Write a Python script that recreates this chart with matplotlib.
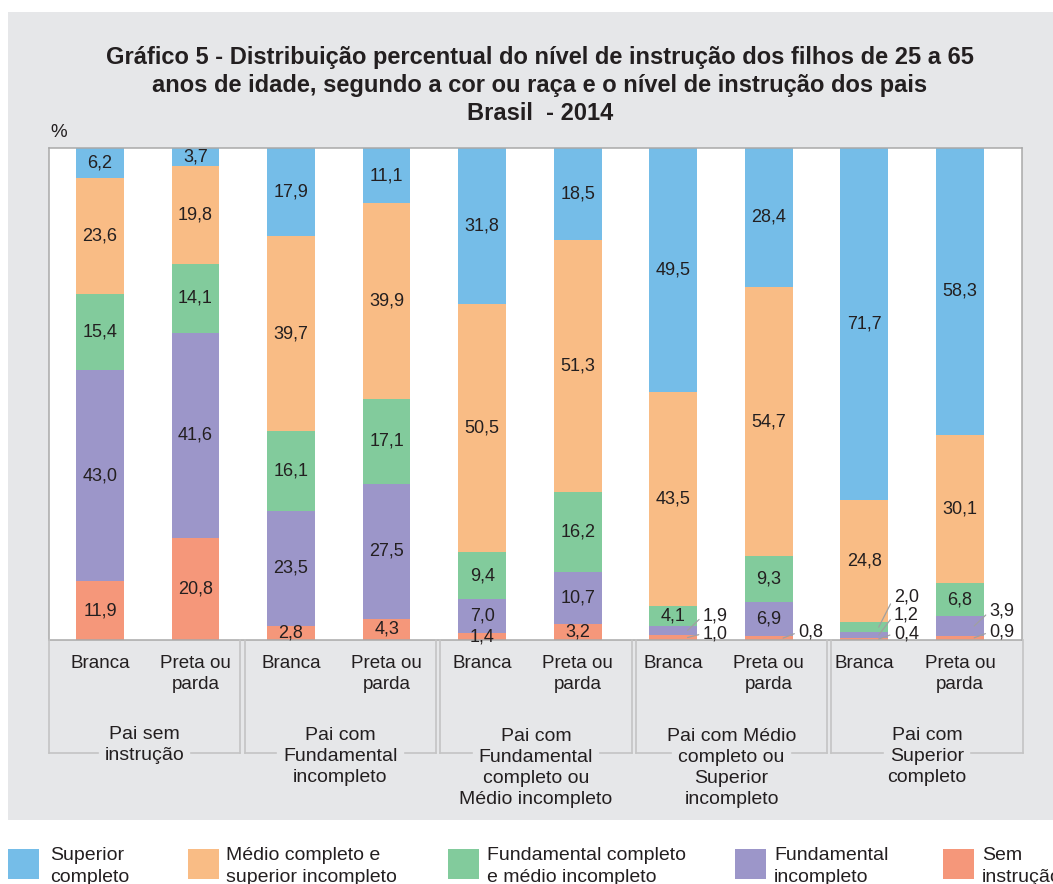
import matplotlib
matplotlib.use("Agg")
import matplotlib.pyplot as plt
from matplotlib.font_manager import FontProperties
from matplotlib.lines import Line2D
from matplotlib.patches import Rectangle

# ---------------------------------------------------------------- data
race = ["Branca", "Preta ou\nparda"]
father = [
    "Pai sem\ninstrução",
    "Pai com\nFundamental\nincompleto",
    "Pai com\nFundamental\ncompleto ou\nMédio incompleto",
    "Pai com Médio\ncompleto ou\nSuperior\nincompleto",
    "Pai com\nSuperior\ncompleto",
]
series_names = [
    "Sem\ninstrução",
    "Fundamental\nincompleto",
    "Fundamental completo\ne médio incompleto",
    "Médio completo e\nsuperior incompleto",
    "Superior\ncompleto",
]
sem_instrucao = [11.9, 20.8, 2.8, 4.3, 1.4, 3.2, 1.0, 0.8, 0.4, 0.9]
fund_incompleto = [43.0, 41.6, 23.5, 27.5, 7.0, 10.7, 1.9, 6.9, 1.2, 3.9]
fund_completo = [15.4, 14.1, 16.1, 17.1, 9.4, 16.2, 4.1, 9.3, 2.0, 6.8]
medio_completo = [23.6, 19.8, 39.7, 39.9, 50.5, 51.3, 43.5, 54.7, 24.8, 30.1]
superior_completo = [6.2, 3.7, 17.9, 11.1, 31.8, 18.5, 49.5, 28.4, 71.7, 58.3]

series = [sem_instrucao, fund_incompleto, fund_completo, medio_completo, superior_completo]
colors = ["#F5977A", "#9C96C9", "#82CB9C", "#F9BC85", "#75BDE8"]

# thin segments labelled beside the bar: (bar, series) -> label height (%)
side_labels = {
    (6, 0): 1.3, (6, 1): 4.9,
    (7, 0): 1.6,
    (8, 0): 1.3, (8, 1): 5.1, (8, 2): 8.7,
    (9, 0): 1.6, (9, 1): 5.8,
}

# ---------------------------------------------------------------- style
W, H, DPI = 1053, 884, 100
BG = "#E6E7E9"
TXT = "#231F20"
BOX = "#C4C4C4"
plt.rcParams["font.family"] = ["Liberation Sans", "DejaVu Sans"]


def fx(px):
    return px / W


def fy(py):
    return 1 - py / H


def fmt(v):
    return f"{v:.1f}".replace(".", ",")


fig = plt.figure(figsize=(W / DPI, H / DPI), dpi=DPI)
fig.patch.set_facecolor("white")
fig.add_artist(Rectangle((fx(8), fy(820)), 1 - fx(8), fy(12) - fy(820),
                         transform=fig.transFigure, facecolor=BG,
                         edgecolor="none", zorder=-10))

ax = fig.add_axes([fx(49.3), fy(640), fx(1022) - fx(49.3), fy(148) - fy(640)])
ax.set_facecolor("white")
for s in ax.spines.values():
    s.set_color("#A9A9A9")
    s.set_linewidth(1.1)

bar_labels = race * len(father)
x = list(range(len(bar_labels)))
bottoms = [0.0] * len(x)
for k, (vals, col) in enumerate(zip(series, colors)):
    ax.bar(x, vals, width=0.5, bottom=bottoms, color=col, zorder=2)
    for i, (v, b) in enumerate(zip(vals, bottoms)):
        if (i, k) in side_labels:
            ax.annotate(fmt(v), xy=(i + 0.15, b + v / 2),
                        xytext=(i + 0.31, side_labels[(i, k)]),
                        ha="left", va="center", fontsize=13, color=TXT,
                        annotation_clip=False, zorder=4,
                        arrowprops=dict(arrowstyle="-", color="#A0A0A0", lw=0.9,
                                        relpos=(0, 0.5), shrinkA=1, shrinkB=0))
        else:
            ax.text(i, b + v / 2, fmt(v), ha="center", va="center",
                    fontsize=13, color=TXT, zorder=4)
    bottoms = [b + v for b, v in zip(bottoms, vals)]

ax.set_xlim(-0.53, 9.65)
ax.set_ylim(0, 100)
ax.set_yticks([])
ax.set_xticks(x)
ax.set_xticklabels(bar_labels, fontsize=13.5, linespacing=1.32, color=TXT)
ax.tick_params(axis="x", length=0, pad=10.5)

# ---------------------------------------------------------------- group boxes
renderer = fig.canvas.get_renderer()
box_left = [49, 245, 440, 636, 831]
box_right = [240, 436, 632, 827, 1023]
box_top, box_bottom = 640, 753
first_baseline, line_step = 737.5, 22.3
gprop = FontProperties(family=["Liberation Sans", "DejaVu Sans"], size=14)
for name, l, r in zip(father, box_left, box_right):
    c = (l + r) / 2
    lines = name.split("\n")
    last_baseline = first_baseline + (len(lines) - 1) * line_step
    fig.text(fx(c), fy(last_baseline), name, ha="center", va="baseline",
             fontproperties=gprop, linespacing=1.33, color=TXT)
    w, _, _ = renderer.get_text_width_height_descent(lines[1], gprop, ismath=False)
    gap = w / 2 + 7
    segs = [([l, l], [box_top, box_bottom]), ([r, r], [box_top, box_bottom]),
            ([l, c - gap], [box_bottom, box_bottom]),
            ([c + gap, r], [box_bottom, box_bottom])]
    for xs, ys in segs:
        fig.add_artist(Line2D([fx(v) for v in xs], [fy(v) for v in ys],
                              transform=fig.transFigure, color=BOX, lw=1.2))

# ---------------------------------------------------------------- texts
fig.text(fx(540), fy(63.5 + 2 * 28),
         "Gráfico 5 - Distribuição percentual do nível de instrução dos filhos de 25 a 65\n"
         "anos de idade, segundo a cor ou raça e o nível de instrução dos pais\n"
         "Brasil  - 2014",
         ha="center", va="baseline", fontsize=17, fontweight="bold",
         linespacing=1.27, color=TXT)
fig.text(fx(50), fy(137), "%", ha="left", va="baseline", fontsize=13.5, color=TXT)

# ---------------------------------------------------------------- legend
sq_x = [8, 188, 448, 735, 943]
tx_x = [50, 226, 487, 774, 982]
for name, col, sx, tx in zip(series_names[::-1], colors[::-1], sq_x, tx_x):
    fig.add_artist(Rectangle((fx(sx), fy(879)), fx(31), fy(849) - fy(879),
                             transform=fig.transFigure, facecolor=col,
                             edgecolor="none"))
    fig.text(fx(tx), fy(881.5), name, ha="left", va="baseline", fontsize=14,
             linespacing=1.33, color=TXT)

fig.savefig("out.png", dpi=DPI)
